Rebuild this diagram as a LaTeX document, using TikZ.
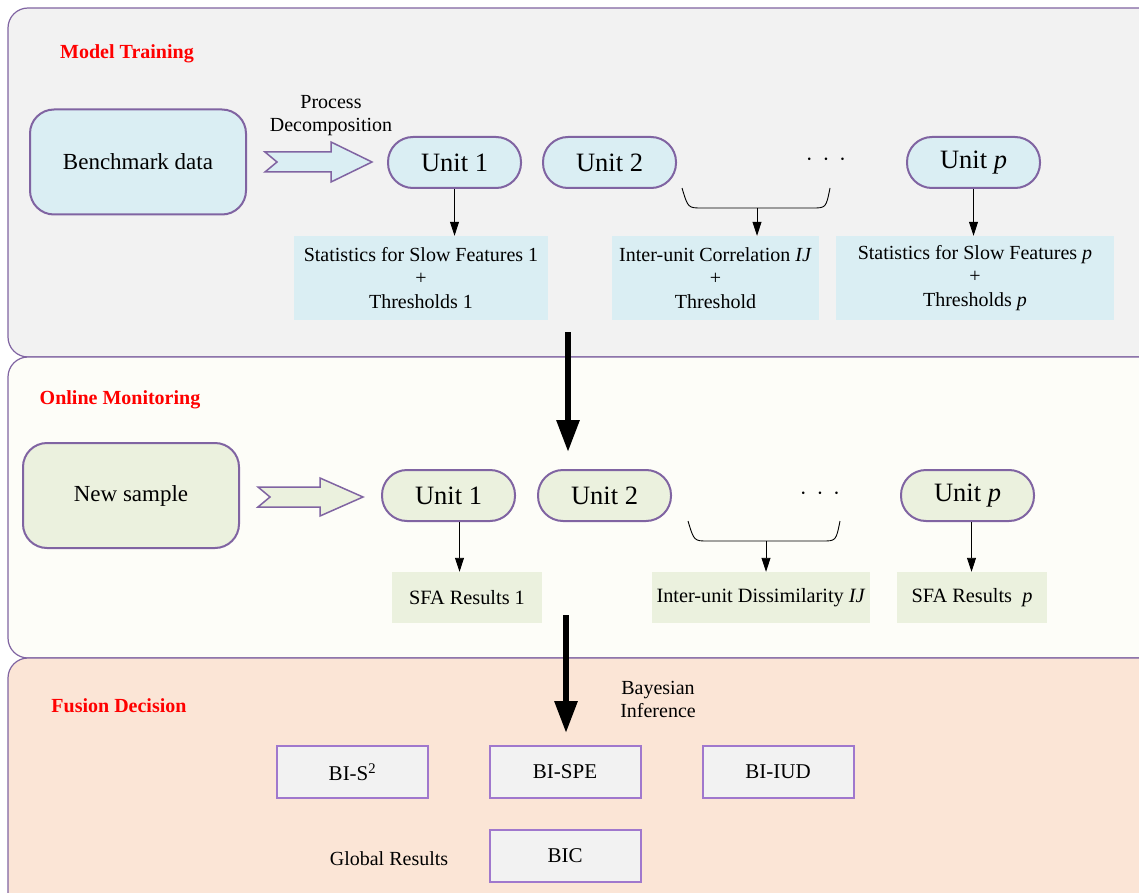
\documentclass[tikz,border=0pt]{standalone}
\usepackage{fontspec}
\setmainfont{Liberation Serif}
\usepackage{tikz}
\usetikzlibrary{arrows.meta, positioning}

\definecolor{panelline}{RGB}{128,100,162}
\definecolor{biline}{RGB}{160,120,205}
\definecolor{trainfill}{RGB}{242,242,242}
\definecolor{onlinefill}{RGB}{253,253,248}
\definecolor{fusionfill}{RGB}{251,229,214}
\definecolor{lblue}{RGB}{218,238,243}
\definecolor{lgreen}{RGB}{235,241,222}
\definecolor{bifill}{RGB}{242,242,242}

\begin{document}
\begin{tikzpicture}[x=1pt, y=-1pt, node distance=20pt,
    panel/.style={draw=panelline, line width=1.2pt, rounded corners=20pt},
    title/.style={text=red, font=\bfseries\fontsize{20}{24}\selectfont},
    source/.style={draw=panelline, line width=2pt, rounded corners=24pt, minimum width=216pt, minimum height=105pt, font=\fontsize{23}{28}\selectfont},
    unit/.style={draw=panelline, line width=2pt, rounded corners=25pt, minimum width=133pt, minimum height=51pt, font=\fontsize{26.5}{30}\selectfont},
    result/.style={minimum height=84pt, align=center, inner sep=0pt, font=\fontsize{20}{23.5}\selectfont},
    sfa/.style={fill=lgreen, minimum height=51pt, inner sep=0pt, font=\fontsize{20.3}{22}\selectfont},
    bibox/.style={draw=biline, line width=2pt, fill=bifill, minimum width=151pt, minimum height=52pt, font=\fontsize{21}{24}\selectfont},
    note/.style={align=center, font=\fontsize{20}{23}\selectfont},
    dotsnode/.style={font=\fontsize{30}{30}\selectfont},
    hollow/.style={draw=panelline, line width=1.5pt, line join=miter},
    arrow/.style={-{Triangle[width=9pt,length=14pt]}, line width=0.9pt},
    bigarrow/.style={-{Triangle[width=22pt,length=32pt]}, line width=6pt},
    brace/.style={line width=0.9pt}]

    \useasboundingbox (0,0) rectangle (1139,893);
    \clip (0,0) rectangle (1139,893);

    % Panels
    \draw [panel, fill=trainfill] (8,8) rectangle (1170,357);
    \draw [panel, fill=onlinefill] (8,357) rectangle (1170,658);
    \draw [panel, fill=fusionfill] (8,658) rectangle (1170,930);

    % Model training
    \node [title] (train) at (127,54) {Model Training};
    \node [source, fill=lblue] (bench) at (138,162) {Benchmark data};
    \node [note] (decomp) at (331,115.5) {Process\\Decomposition};
    \draw [hollow, fill=lblue, shift={(265,162)}] (0,-10) -- (66,-10) -- (66,-20) -- (107,0) -- (66,20) -- (66,10) -- (0,10) -- (12,0) -- cycle;
    \node [unit, fill=lblue] (u1) at (454.5,162.5) {Unit 1};
    \node [unit, fill=lblue, right=of u1] (u2) {Unit 2};
    \node [dotsnode] (dots1) at (826,160) {$\cdot\,\cdot\,\cdot$};
    \node [unit, fill=lblue] (up) at (973.5,162.5) {Unit \textit{p}};

    \node [result, fill=lblue, minimum width=254pt] (stat1) at (421,278) {Statistics for Slow Features 1\\+\\Thresholds 1};
    \node [result, fill=lblue, minimum width=207pt] (corr) at (715.5,278) {Inter-unit Correlation \textit{IJ}\\+\\Threshold};
    \node [result, fill=lblue, minimum width=278pt] (statp) at (975,278) {Statistics for Slow Features \textit{p}\\+\\Thresholds \textit{p}};

    \draw [brace] (682,188) .. controls (688,208) .. (702,208) -- (812,208) .. controls (826,208) .. (830,188);
    \coordinate (brace1) at (757,208);

    \draw [arrow] (u1.south) -- (u1.south |- stat1.north);
    \draw [arrow] (brace1) -- (brace1 |- corr.north);
    \draw [arrow] (up.south) -- (up.south |- statp.north);

    \coordinate (down1) at (568,332);
    \coordinate (down1end) at (568,452);
    \draw [bigarrow] (down1) -- (down1end);

    % Online monitoring
    \node [title] (online) at (120,400) {Online Monitoring};
    \node [source, fill=lgreen] (sample) at (131,495.5) {New sample};
    \draw [hollow, fill=lgreen, shift={(258,497)}] (0,-10) -- (62,-10) -- (62,-19) -- (105,0) -- (62,19) -- (62,10) -- (0,10) -- (12,0) -- cycle;
    \node [unit, fill=lgreen] (v1) at (448.5,495.5) {Unit 1};
    \node [unit, fill=lgreen, right=21pt of v1] (v2) {Unit 2};
    \node [dotsnode] (dots2) at (820,494) {$\cdot\,\cdot\,\cdot$};
    \node [unit, fill=lgreen] (vp) at (967.5,495.5) {Unit \textit{p}};

    \node [sfa, minimum width=150pt] (sfa1) at (467,597.5) {SFA Results 1};
    \node [sfa, minimum width=218pt] (diss) at (761,597.5) {Inter-unit Dissimilarity \textit{IJ}};
    \node [sfa, minimum width=150pt] (sfap) at (972,597.5) {SFA Results~~\textit{p}};

    \draw [brace] (688,521) .. controls (694,541) .. (708,541) -- (822,541) .. controls (836,541) .. (840,521);
    \coordinate (brace2) at (766,541);

    \draw [arrow] ([xshift=11pt]v1.south) -- ([xshift=11pt]v1.south |- sfa1.north);
    \draw [arrow] (brace2) -- (brace2 |- diss.north);
    \draw [arrow] ([xshift=4pt]vp.south) -- ([xshift=4pt]vp.south |- sfap.north);

    \coordinate (down2) at (566,615);
    \coordinate (down2end) at (566,733);
    \draw [bigarrow] (down2) -- (down2end);

    % Fusion decision
    \node [title] (fusion) at (119,706) {Fusion Decision};
    \node [note] (bayes) at (658,699.5) {Bayesian\\Inference};
    \node [bibox] (bis) at (352.5,772) {BI-S\textsuperscript{2}};
    \node [bibox] (bispe) at (565,772) {BI-SPE};
    \node [bibox] (biiud) at (778,772) {BI-IUD};
    \node [bibox] (bic) at (565,855.5) {BIC};
    \node [note] (global) at (389,859) {Global Results};

\end{tikzpicture}
\end{document}
